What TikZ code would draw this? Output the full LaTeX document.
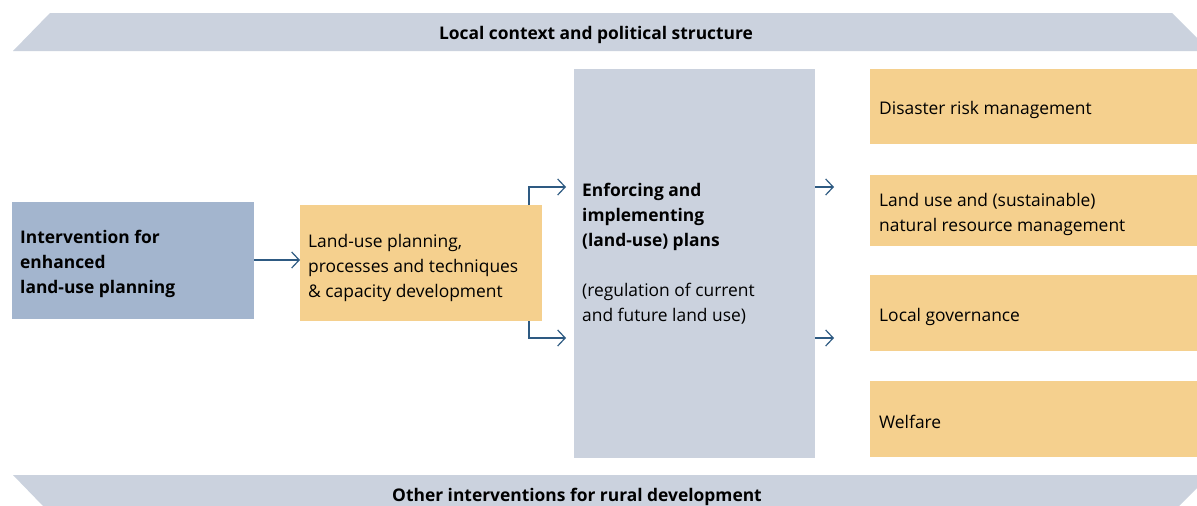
\documentclass[tikz,border=0pt]{standalone}
\usepackage{fontspec}
\setmainfont{Open Sans}
\usetikzlibrary{arrows.meta}
\definecolor{bandgrey}{HTML}{CBD2DE}
\definecolor{planblue}{HTML}{A3B5CE}
\definecolor{sand}{HTML}{F5D08E}
\definecolor{arrowblue}{HTML}{2E5A82}
\tikzset{
  panel/.style={fill=#1, draw=none},
  label/.style={inner sep=0pt, anchor=west, align=left, font=\fontsize{17.4}{25}\selectfont, text=black},
  boldlabel/.style={label, font=\fontsize{17.4}{25}\selectfont\bfseries},
  flow/.style={draw=arrowblue, line width=1.2pt, -{Straight Barb[length=7.5pt,width=16pt,line width=1.2pt]}},
}
\begin{document}
\begin{tikzpicture}[x=1pt,y=-1pt]
\useasboundingbox (0,0) rectangle (1197,506);
\fill[white] (0,0) rectangle (1197,506);
\begin{scope}
  \clip (0,0) rectangle (1197,506);
  % context bands
  \fill[bandgrey] (13,51) -- (50,13) -- (1172,13) -- (1210,51) -- cycle;
  \fill[bandgrey] (13,475) -- (1210,475) -- (1179,506) -- (43,506) -- cycle;
\end{scope}
\node[boldlabel, anchor=center] (ctx) at (596,35) {Local context and political structure};
\node[boldlabel, anchor=center] (other) at (577,497) {Other interventions for rural development};

% boxes
\path[panel=planblue] (12,202) rectangle (254,319);
\coordinate (intE) at (254,260);
\path[panel=sand] (300,205) rectangle (542,321);
\coordinate (lupW) at (300,260);
\coordinate (lupN) at (529,205);
\coordinate (lupS) at (529,321);
\path[panel=bandgrey] (574,69) rectangle (815,458);
\coordinate (enfNW) at (566,187);
\coordinate (enfSW) at (566,338);
\coordinate (enfNE) at (815,187);
\coordinate (enfSE) at (815,338);
\coordinate (outN) at (834,187);
\coordinate (outS) at (834,338);
\path[panel=sand] (870,69) rectangle (1197,144);
\path[panel=sand] (870,175) rectangle (1197,246);
\path[panel=sand] (870,275) rectangle (1197,351);
\path[panel=sand] (870,381) rectangle (1197,457);

% texts
\node[boldlabel] (int) at (20,264) {Intervention for\\enhanced\\land-use planning};
\node[label] (lup) at (308,268) {Land-use planning,\\processes and techniques\\\& capacity development};
\node[boldlabel, anchor=north west] (enf) at (582,183) {Enforcing and\\implementing\\(land-use) plans};
\node[label, anchor=north west] (reg) at (582,283) {(regulation of current\\and future land use)};
\node[label] (drm) at (879,110) {Disaster risk management};
\node[label] (nrm) at (879,214) {Land use and (sustainable)\\natural resource management};
\node[label] (gov) at (879,317) {Local governance};
\node[label] (wel) at (879,422) {Welfare};

% connectors
\draw[flow] (intE) -- (lupW);
\draw[flow] (lupN) |- (enfNW);
\draw[flow] (lupS) |- (enfSW);
\draw[flow] (enfNE) -- (outN);
\draw[flow] (enfSE) -- (outS);
\end{tikzpicture}
\end{document}
